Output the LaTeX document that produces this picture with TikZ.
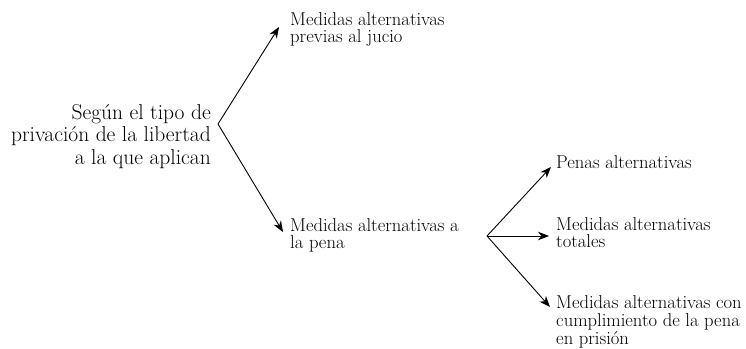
\documentclass[tikz,border=0pt]{standalone}
\usetikzlibrary{arrows.meta}
\begin{document}
\begin{tikzpicture}[x=1pt,y=-1pt,
  small/.style={font=\fontsize{18.6}{17}\selectfont, inner sep=0pt, align=left, anchor=north west},
  big/.style={font=\fontsize{21.5}{22.5}\selectfont, inner sep=0pt, align=right, anchor=north east},
  arr/.style={line width=0.9pt, -{Stealth[length=11pt,width=8.5pt,inset=3.5pt]}}]
\useasboundingbox (0,0) rectangle (746,348);
\node[big] (root) at (211,104) {Según el tipo de\\privación de la libertad\\a la que aplican};
\node[small] (prev) at (290,12.1) {Medidas alternativas\\previas al jucio};
\node[small] (pena) at (290,218.1) {Medidas alternativas a\\la pena};
\node[small] (penas) at (556,155.1) {Penas alternativas};
\node[small] (tot) at (556,217.1) {Medidas alternativas\\totales};
\node[small, font=\fontsize{18.6}{18}\selectfont] (pris) at (556,295.1) {Medidas alternativas con\\cumplimiento de la pena\\en prisión};
\coordinate (v1) at (218,124);
\coordinate (v2) at (487,236);
\coordinate (t1) at (279,27);
\coordinate (t2) at (283,232);
\coordinate (t3) at (551,167);
\coordinate (t4) at (549,236);
\coordinate (t5) at (550,307);
\draw[arr] (v1) -- (t1);
\draw[arr] (v1) -- (t2);
\draw[arr] (v2) -- (t3);
\draw[arr] (v2) -- (t4);
\draw[arr] (v2) -- (t5);
\end{tikzpicture}
\end{document}
